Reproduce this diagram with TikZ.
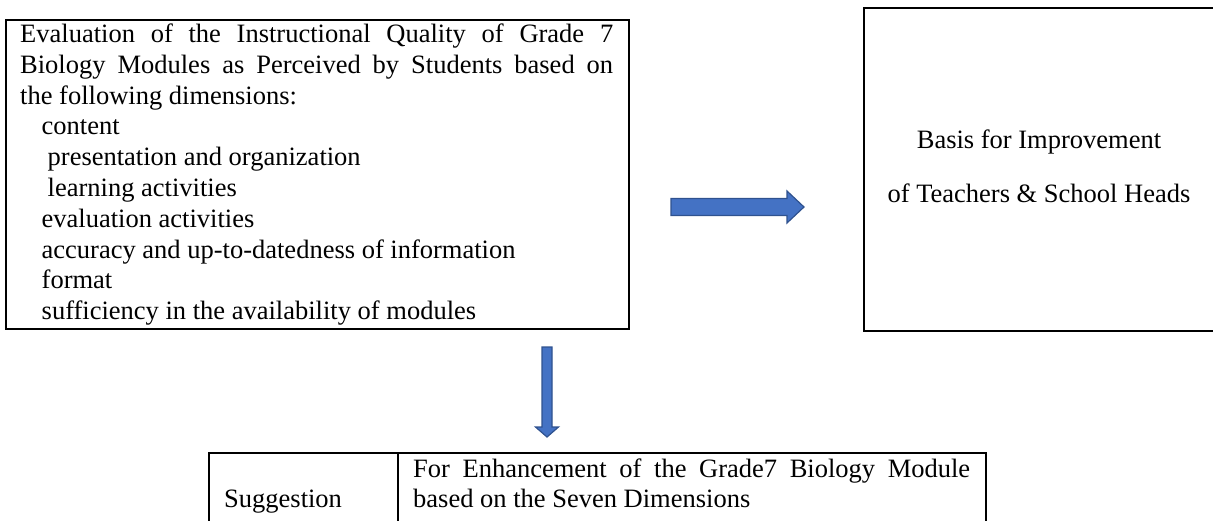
\documentclass[tikz,border=0pt]{standalone}
\usepackage{fontspec}
\setmainfont{Liberation Serif}
\usetikzlibrary{calc}
\definecolor{arrfill}{HTML}{4472C4}
\definecolor{arrline}{HTML}{2F528F}
\newcommand{\txtfont}{\fontsize{26.5}{30.8}\selectfont}
\begin{document}
\begin{tikzpicture}[x=1pt,y=-1pt,
  boxframe/.style={draw=black, line width=1.8pt, inner sep=0pt, anchor=north west},
  plaintext/.style={inner sep=0pt, font=\txtfont},
  blockarr/.style={fill=arrfill, draw=arrline, line width=1.2pt, line join=miter}]
\useasboundingbox (0,0) rectangle (1213,520);

% left box
\node[boxframe, minimum width=623pt, minimum height=309pt] (eval) at (5,19) {};
\node[plaintext, anchor=base west] (evaltext) at (20,42.5) {\parbox[t]{593pt}{\txtfont\hyphenpenalty=10000
Evaluation of the Instructional Quality of Grade 7\linebreak
Biology Modules as Perceived by Students based on\linebreak
the following dimensions:\par
\hspace*{21.5pt}content\par
\hspace*{27.5pt}presentation and organization\par
\hspace*{27.5pt}learning activities\par
\hspace*{21.5pt}evaluation activities\par
\hspace*{21.5pt}accuracy and up-to-datedness of information\par
\hspace*{21.5pt}format\par
\hspace*{21.5pt}sufficiency in the availability of modules}};

% right box
\node[boxframe, minimum width=352pt, minimum height=323pt] (basis) at (863,7) {};
\node[plaintext, anchor=base] (basis1) at (1039,148) {Basis for Improvement};
\node[plaintext, anchor=base] (basis2) at (1039,202) {of Teachers \& School Heads};

% bottom table
\node[draw=black, line width=1.6pt, inner sep=0pt, anchor=north west, minimum width=777pt, minimum height=100pt] (sugtable) at (208,452) {};
\coordinate (divtop) at (398,452);
\coordinate (divbot) at (398,552);
\draw[line width=1.6pt] (divtop) -- (divbot);
\node[plaintext, anchor=base west] (sug) at (224,507) {Suggestion};
\node[plaintext, anchor=base west] (enh) at (413,477) {\parbox[t]{557pt}{\txtfont\hyphenpenalty=10000
For Enhancement of the Grade7 Biology Module\linebreak
based on the Seven Dimensions}};

% horizontal block arrow
\coordinate (ha) at (671,207);
\coordinate (hb) at (804,207);
\filldraw[blockarr] ($(ha)+(0,-8.5)$) -- ($(hb)+(-17,-8.5)$) -- ($(hb)+(-17,-16)$) -- (hb)
  -- ($(hb)+(-17,16)$) -- ($(hb)+(-17,8.5)$) -- ($(ha)+(0,8.5)$) -- cycle;

% vertical block arrow
\coordinate (va) at (547,347);
\coordinate (vb) at (547,437);
\filldraw[blockarr] ($(va)+(-5,0)$) -- ($(vb)+(-5,-10)$) -- ($(vb)+(-11.5,-10)$) -- (vb)
  -- ($(vb)+(11.5,-10)$) -- ($(vb)+(5,-10)$) -- ($(va)+(5,0)$) -- cycle;
\end{tikzpicture}
\end{document}
